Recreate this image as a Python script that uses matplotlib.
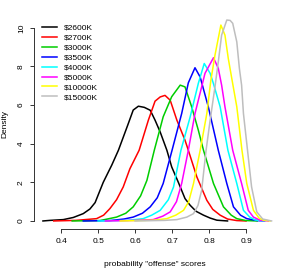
import matplotlib
matplotlib.use("Agg")
import matplotlib.pyplot as plt

plt.rcParams['font.family'] = ['Liberation Sans', 'DejaVu Sans']

# density curves (x = probability score, y = density)
x_2600 = [0.351, 0.37, 0.406, 0.433, 0.46, 0.478, 0.492, 0.514, 0.537, 0.555, 0.58, 0.595,
          0.609, 0.625, 0.641, 0.654, 0.668, 0.686, 0.699, 0.717, 0.735, 0.749, 0.765, 0.785,
          0.803, 0.821, 0.85]
y_2600 = [0.0, 0.03, 0.07, 0.18, 0.38, 0.62, 0.95, 2.0, 2.89, 3.66, 4.95, 5.74,
          5.94, 5.88, 5.73, 5.22, 4.6, 3.66, 2.8, 2.0, 1.16, 0.81, 0.5, 0.3,
          0.15, 0.04, 0.0]

x_2700 = [0.38, 0.44, 0.496, 0.515, 0.532, 0.55, 0.568, 0.586, 0.611, 0.636, 0.654, 0.668,
          0.681, 0.695, 0.713, 0.735, 0.744, 0.767, 0.794, 0.81, 0.83, 0.85, 0.875, 0.9]
y_2700 = [0.0, 0.03, 0.12, 0.3, 0.64, 1.1, 1.76, 2.7, 3.66, 5.22, 6.2, 6.42,
          6.5, 6.25, 5.22, 4.18, 3.66, 2.28, 1.07, 0.6, 0.3, 0.1, 0.02, 0.0]

x_3000 = [0.43, 0.505, 0.55, 0.575, 0.595, 0.615, 0.632, 0.652, 0.676, 0.699, 0.722, 0.735,
          0.753, 0.771, 0.785, 0.812, 0.839, 0.86, 0.875, 0.9, 0.93]
y_3000 = [0.0, 0.02, 0.2, 0.4, 0.73, 1.3, 2.1, 3.66, 5.39, 6.43, 7.03, 6.94,
          5.91, 4.7, 3.66, 1.94, 0.73, 0.3, 0.12, 0.02, 0.0]

x_3500 = [0.46, 0.532, 0.57, 0.595, 0.62, 0.641, 0.66, 0.676, 0.7, 0.726, 0.744, 0.762,
          0.776, 0.798, 0.825, 0.848, 0.866, 0.885, 0.902, 0.93, 0.95]
y_3500 = [0.0, 0.02, 0.1, 0.2, 0.4, 0.73, 1.2, 1.94, 3.66, 5.56, 7.15, 7.93,
          7.45, 5.91, 3.66, 1.94, 0.73, 0.3, 0.12, 0.02, 0.0]

x_4000 = [0.5, 0.58, 0.622, 0.645, 0.668, 0.69, 0.704, 0.724, 0.749, 0.771, 0.787, 0.803,
          0.812, 0.83, 0.851, 0.875, 0.893, 0.91, 0.925, 0.95]
y_4000 = [0.0, 0.03, 0.12, 0.3, 0.55, 1.1, 1.76, 3.66, 5.39, 7.12, 8.15, 7.64,
          7.1, 5.91, 3.66, 1.94, 0.55, 0.2, 0.05, 0.0]

x_5000 = [0.52, 0.6, 0.649, 0.675, 0.695, 0.712, 0.726, 0.744, 0.762, 0.78, 0.789, 0.812,
          0.825, 0.834, 0.843, 0.864, 0.888, 0.906, 0.92, 0.938, 0.96]
y_5000 = [0.0, 0.03, 0.07, 0.25, 0.47, 1.0, 1.94, 3.66, 5.56, 6.94, 7.64, 8.45,
          7.9, 7.03, 5.91, 3.66, 1.94, 0.55, 0.2, 0.04, 0.0]

x_10000 = [0.56, 0.65, 0.686, 0.71, 0.731, 0.745, 0.758, 0.776, 0.794, 0.805, 0.816, 0.832,
           0.843, 0.852, 0.864, 0.875, 0.889, 0.902, 0.92, 0.935, 0.947, 0.965]
y_10000 = [0.0, 0.04, 0.12, 0.3, 0.55, 1.0, 1.94, 3.66, 5.56, 7.3, 8.58, 10.14,
           9.62, 8.41, 7.1, 5.91, 3.66, 1.94, 0.55, 0.15, 0.04, 0.0]

x_15000 = [0.6, 0.68, 0.713, 0.74, 0.758, 0.77, 0.78, 0.792, 0.803, 0.816, 0.825, 0.834,
           0.848, 0.857, 0.864, 0.875, 0.882, 0.888, 0.893, 0.904, 0.915, 0.929, 0.945, 0.969]
y_15000 = [0.0, 0.03, 0.07, 0.2, 0.38, 0.8, 1.59, 3.66, 5.22, 6.94, 8.24, 9.62,
           10.4, 10.38, 10.23, 9.27, 7.9, 7.03, 5.56, 3.66, 1.76, 0.47, 0.1, 0.0]

labels = ["$2600K", "$2700K", "$3000K", "$3500K", "$4000K", "$5000K", "$10000K", "$15000K"]
colors = ["black", "#FF0000", "#00CD00", "#0000FF", "#00FFFF", "#FF00FF", "#FFFF00", "#BEBEBE"]
curves = [(x_2600, y_2600), (x_2700, y_2700), (x_3000, y_3000), (x_3500, y_3500),
          (x_4000, y_4000), (x_5000, y_5000), (x_10000, y_10000), (x_15000, y_15000)]

x_ticks = [0.4, 0.5, 0.6, 0.7, 0.8, 0.9]
y_ticks = [0, 2, 4, 6, 8, 10]

W, H = 294, 273
fig = plt.figure(figsize=(W / 100, H / 100), dpi=100)
ax = fig.add_axes([33.7 / W, 1 - 229 / H, (280.7 - 33.7) / W, (229 - 12) / H])

for (xs, ys), c, lab in zip(curves, colors, labels):
    ax.plot(xs, ys, color=c, lw=1.1, label=lab, solid_joinstyle="round")

ax.set_xlim(0.326, 0.9937)
ax.set_ylim(-0.416, 10.816)

# R-style axes: only left and bottom, spanning the tick range
for s in ["top", "right"]:
    ax.spines[s].set_visible(False)
ax.spines["left"].set_bounds(0, 10)
ax.spines["bottom"].set_bounds(0.4, 0.9)
for s in ["left", "bottom"]:
    ax.spines[s].set_linewidth(0.7)
    ax.spines[s].set_color("#333333")

ax.set_xticks(x_ticks)
ax.set_xticklabels([f"{t:.1f}" for t in x_ticks])
ax.set_yticks(y_ticks)
ax.set_yticklabels([str(t) for t in y_ticks], rotation=90, va="center")
ax.tick_params(axis="both", length=3.2, width=0.7, color="#333333", labelsize=6)
ax.tick_params(axis="x", pad=3.5)
ax.tick_params(axis="y", pad=3.0)

fig.text(155 / W, 1 - 264.5 / H, 'probability "offense" scores', ha="center", va="center", fontsize=6)
fig.text(5 / W, 1 - 124 / H, "Density", rotation=90, ha="center", va="center", fontsize=6)

ax.legend(loc="upper left", bbox_to_anchor=(41.7 / W, 1 - 24.0 / H),
          bbox_transform=fig.transFigure, frameon=False, fontsize=6,
          handlelength=1.87, handletextpad=0.84, labelspacing=0.25,
          borderpad=0, borderaxespad=0)

fig.savefig("out.png", dpi=100)
